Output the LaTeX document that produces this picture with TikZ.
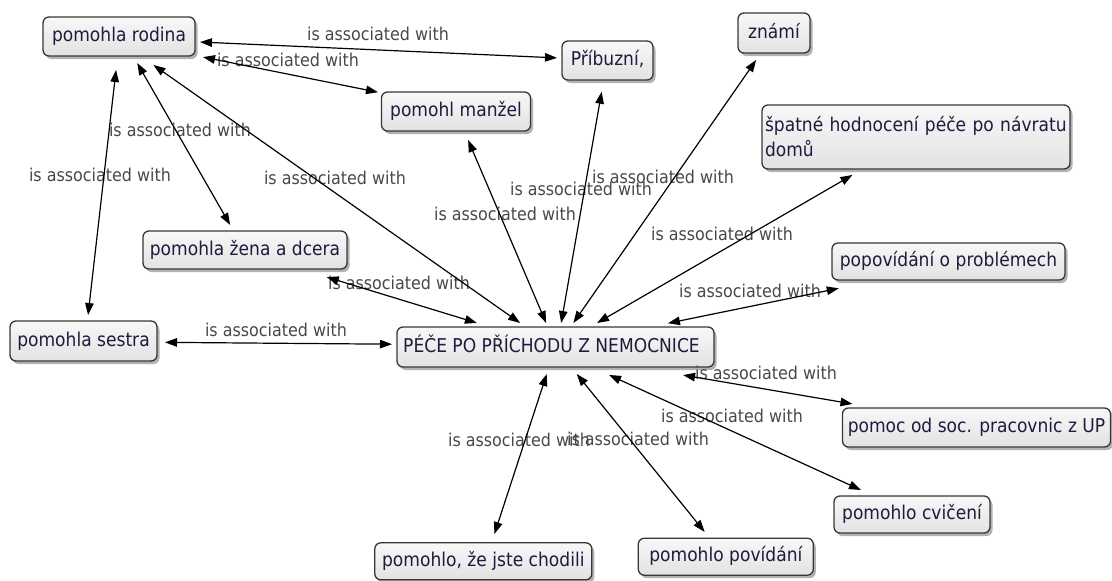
\documentclass[tikz,border=0pt]{standalone}
\usepackage{fontspec}
\setmainfont{DejaVu Sans}[FakeStretch=0.9]
\usetikzlibrary{arrows.meta,shadows}

\definecolor{conceptborder}{RGB}{55,55,55}
\definecolor{concepttop}{RGB}{248,248,248}
\definecolor{conceptbottom}{RGB}{226,226,226}
\definecolor{concepttext}{RGB}{28,28,62}
\definecolor{linktext}{RGB}{72,72,72}

\tikzset{
  concept/.style={draw=conceptborder, line width=1.3pt, rounded corners=6pt,
    top color=concepttop, bottom color=conceptbottom,
    drop shadow={shadow xshift=2.5pt, shadow yshift=-3pt, opacity=0.3, fill=black},
    text=concepttext, font=\fontsize{19}{25}\selectfont,
    inner xsep=4pt, inner ysep=0pt, outer sep=0pt,
    text height=14pt, text depth=4pt},
  linkphrase/.style={text=linktext, font=\fontsize{17.7}{20}\selectfont,
    inner sep=0pt, anchor=base},
  assoc/.style={{Triangle[length=12pt,width=8.5pt]}-{Triangle[length=12pt,width=8.5pt]},
    line width=1.2pt, black},
}

\begin{document}
\begin{tikzpicture}[x=1pt,y=-1pt]
\useasboundingbox (0,0) rectangle (1112,581);

% concepts
\node[concept, minimum width=152pt, minimum height=39pt] (rodina)   at (119,36.5)   {pomohla rodina};
\node[concept, minimum width=91pt,  minimum height=39pt] (pribuzni) at (607.5,60.5) {Příbuzní,};
\node[concept, minimum width=72pt,  minimum height=40pt] (znami)    at (774,33)     {známí};
\node[concept, minimum width=149pt, minimum height=39pt] (manzel)   at (456,111.5)  {pomohl manžel};
\node[concept, minimum height=64pt, text width=302pt, align=left, inner xsep=3pt,
      text height=, text depth=] (spatne) at (916,137) {\mbox{špatné hodnocení péče po návratu}\\domů};
\node[concept, minimum width=233pt, minimum height=37pt] (popov)    at (948.5,261.5) {popovídání o problémech};
\node[concept, minimum width=204pt, minimum height=38pt] (zena)     at (245,250)    {pomohla žena a dcera};
\node[concept, minimum width=147pt, minimum height=40pt] (sestra)   at (83.5,341)   {pomohla sestra};
\node[concept, minimum width=317pt, minimum height=40pt] (pece)     at (555.5,347)  {PÉČE PO PŘÍCHODU Z NEMOCNICE\hspace*{8pt}};
\node[concept, minimum width=268pt, minimum height=39pt] (pomoc)    at (976.5,427.5) {pomoc od soc. pracovnic z UP};
\node[concept, minimum width=156pt, minimum height=37pt] (cviceni)  at (912,514.5)  {pomohlo cvičení};
\node[concept, minimum width=175pt, minimum height=37pt] (povidani) at (725.8,556.7) {pomohlo povídání};
\node[concept, minimum width=217pt, minimum height=37pt] (chodili)  at (483.3,561.3) {pomohlo, že jste chodili};

% linking phrases
\node[linkphrase] (l1)  at (378,40)  {is associated with};
\node[linkphrase] (l2)  at (288,66)  {is associated with};
\node[linkphrase] (l3)  at (100,181) {is associated with};
\node[linkphrase] (l4)  at (180,136) {is associated with};
\node[linkphrase] (l5)  at (335,184) {is associated with};
\node[linkphrase] (l6)  at (399,289) {is associated with};
\node[linkphrase] (l7)  at (276,336) {is associated with};
\node[linkphrase] (l8)  at (505,220) {is associated with};
\node[linkphrase] (l9)  at (581,195) {is associated with};
\node[linkphrase] (l10) at (663,183) {is associated with};
\node[linkphrase] (l11) at (722,240) {is associated with};
\node[linkphrase] (l12) at (750,297) {is associated with};
\node[linkphrase] (l13) at (766,379) {is associated with};
\node[linkphrase] (l14) at (732,422) {is associated with};
\node[linkphrase] (l15) at (638,445) {is associated with};
\node[linkphrase] (l16) at (519,446) {is associated with};

% associations
\draw[assoc, shorten <=5pt,    shorten >=5pt]    (rodina.-4)     -- (pribuzni.177.1);
\draw[assoc, shorten <=8.2pt,  shorten >=3.6pt]  (rodina.-14)    -- (manzel.166.6);
\draw[assoc, shorten <=14.1pt, shorten >=6pt]    (rodina.-94.1)  -- (sestra.79.2);
\draw[assoc, shorten <=8.1pt,  shorten >=6.9pt]  (rodina.-54.3)  -- (zena.121.4);
\draw[assoc, shorten <=15.6pt, shorten >=7pt]    (rodina.-42.6)  -- (pece.146.1);
\draw[assoc, shorten <=27.7pt, shorten >=13.8pt] (zena.-19.5)    -- (pece.163);
\draw[assoc, shorten <=8pt,    shorten >=5pt]    (sestra.-1.6)   -- (pece.179.7);
\draw[assoc, shorten <=9.8pt,  shorten >=4.3pt]  (manzel.-67.2)  -- (pece.111.3);
\draw[assoc, shorten <=11.9pt, shorten >=4.1pt]  (pribuzni.-101) -- (pece.76.5);
\draw[assoc, shorten <=8.5pt,  shorten >=4.9pt]  (znami.-123.2)  -- (pece.53.7);
\draw[assoc, shorten <=11.9pt, shorten >=8pt]    (spatne.-149.4) -- (pece.30);
\draw[assoc, shorten <=41.5pt, shorten >=18.7pt] (popov.-165.1)  -- (pece.12.4);
\draw[assoc, shorten <=48pt,   shorten >=24pt]   (pece.-14.2)    -- (pomoc.169);
\draw[assoc, shorten <=19.2pt, shorten >=14.4pt] (pece.-29.5)    -- (cviceni.154.6);
\draw[assoc, shorten <=9pt,    shorten >=8.1pt]  (pece.-52)      -- (povidani.131.2);
\draw[assoc, shorten <=7.4pt,  shorten >=9.2pt]  (pece.-108)     -- (chodili.66.9);
\end{tikzpicture}
\end{document}
